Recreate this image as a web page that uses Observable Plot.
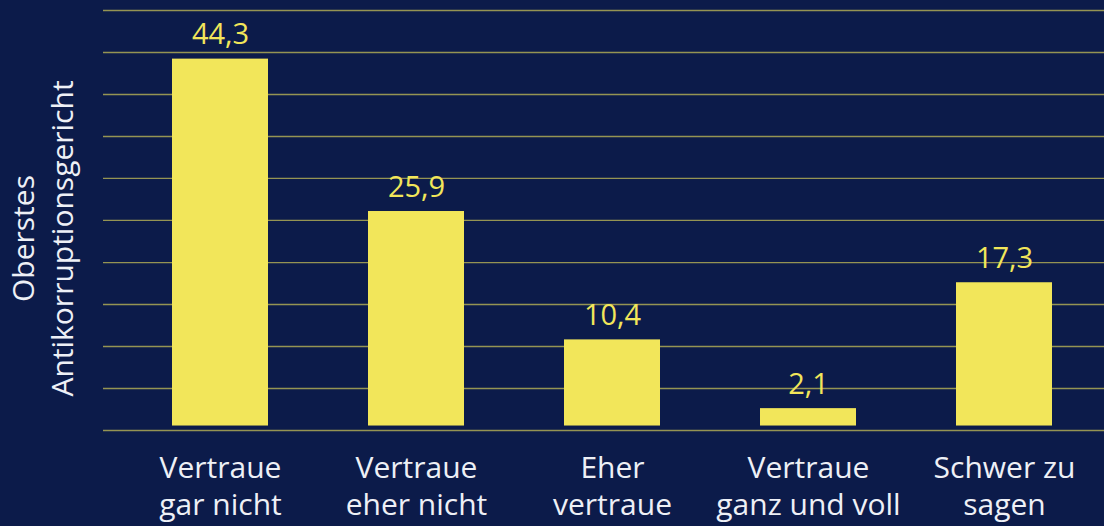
<!DOCTYPE html>
<html>
<head>
<meta charset="utf-8">
<script src="https://cdn.jsdelivr.net/npm/d3@7"></script>
<script src="https://cdn.jsdelivr.net/npm/@observablehq/plot@0.6"></script>
<style>
  html, body { margin: 0; padding: 0; background: #0c1b4a; }
  #chart { width: 1104px; height: 526px; overflow: hidden; }
</style>
</head>
<body>
<div id="chart"></div>
<script>
const categories = ["Vertraue gar nicht", "Vertraue eher nicht", "Eher vertraue", "Vertraue ganz und voll", "Schwer zu sagen"];
const tickLabels = ["Vertraue\ngar nicht", "Vertraue\neher nicht", "Eher\nvertraue", "Vertraue\nganz und voll", "Schwer zu\nsagen"];
const values = [44.3, 25.9, 10.4, 2.1, 17.3];
const valueLabels = ["44,3", "25,9", "10,4", "2,1", "17,3"];
const gridValues = [-0.54, 4.53, 9.60, 14.67, 19.74, 24.82, 29.89, 34.96, 40.03, 45.10, 50.17];
const yLabel = "Oberstes\nAntikorruptionsgericht";

const data = categories.map((c, i) => ({cat: c, value: values[i], label: valueLabels[i]}));
const tickMap = new Map(categories.map((c, i) => [c, tickLabels[i]]));

const bg = "#0c1b4a";
const yellow = "#f2e65a";
const textColor = "#eef0f6";
const font = "'Open Sans', sans-serif";

const chart = Plot.plot({
  width: 1104,
  height: 526,
  marginLeft: 103,
  marginRight: 0,
  marginTop: 10,
  marginBottom: 96,
  style: {background: bg, fontFamily: font, color: textColor},
  x: {domain: categories, paddingInner: 0.508, paddingOuter: 0.297, align: 0.57, axis: null},
  y: {domain: [gridValues[0], gridValues[gridValues.length - 1]], axis: null},
  marks: [
    Plot.ruleY(gridValues, {stroke: yellow, strokeOpacity: 0.6, strokeWidth: 1.3}),
    Plot.barY(data, {x: "cat", y: "value", fill: yellow}),
    Plot.text(data, {x: "cat", y: "value", text: "label", fill: yellow, fontSize: 29, lineAnchor: "bottom", dy: -15}),
    Plot.axisX({tickSize: 0, tickPadding: 21, fontSize: 30, lineHeight: 1.24, label: null, tickFormat: d => tickMap.get(d), fill: textColor}),
    Plot.text([yLabel], {frameAnchor: "left", dx: -62, dy: 18, rotate: -90, fontSize: 30, lineHeight: 1.3, fill: textColor, textAnchor: "middle", lineAnchor: "middle"})
  ]
});
document.getElementById("chart").appendChild(chart);
</script>
</body>
</html>
